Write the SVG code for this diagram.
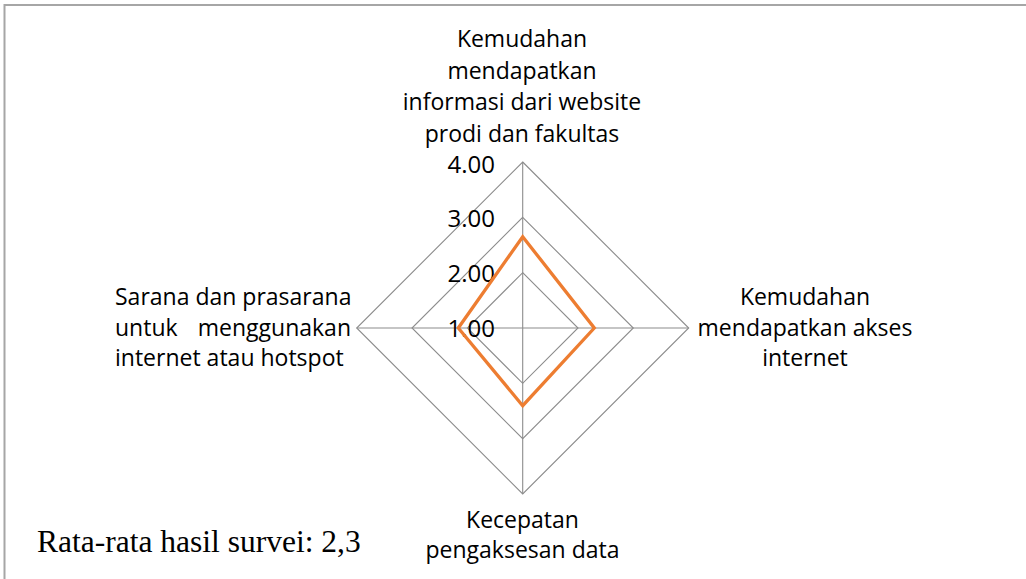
<svg xmlns="http://www.w3.org/2000/svg" width="1026" height="579" viewBox="0 0 1026 579">
<style>
.frame{fill:none;stroke:#a6a6a6;stroke-width:2}
.grid{fill:none;stroke:#8c8c8c;stroke-width:1.1}
.series{fill:none;stroke:#ed7d31;stroke-width:3.3;stroke-linejoin:miter}
.cat{font-family:"Open Sans","Noto Sans",sans-serif;font-size:23px;fill:#000}
.mid{text-anchor:middle}
.tick{font-family:"Open Sans","Noto Sans",sans-serif;font-size:24px;fill:#000;text-anchor:end}
.note{font-family:"Liberation Serif","Times New Roman",serif;font-size:31.5px;fill:#000}
</style>
<rect width="1026" height="579" fill="#ffffff"/>
<rect class="frame" x="4.5" y="5" width="1040" height="600"/>
<g id="grid">
  <polygon class="grid" points="522.7,162 688.7,328 522.7,494 356.7,328"/>
  <polygon class="grid" points="522.7,217.3 633.3,328 522.7,438.7 412,328"/>
  <polygon class="grid" points="522.7,272.7 578,328 522.7,383.3 467.4,328"/>
  <line class="grid" x1="522.7" y1="328" x2="522.7" y2="162"/>
  <line class="grid" x1="522.7" y1="328" x2="688.7" y2="328"/>
  <line class="grid" x1="522.7" y1="328" x2="522.7" y2="494"/>
  <line class="grid" x1="522.7" y1="328" x2="356.7" y2="328"/>
</g>
<g id="axis-labels">
  <text class="tick" x="495" y="172.5">4.00</text>
  <text class="tick" x="495" y="226.5">3.00</text>
  <text class="tick" x="495" y="281.5">2.00</text>
  <text class="tick" x="495" y="336.7">1.00</text>
</g>
<g id="series">
  <polygon class="series" points="522.7,236.7 594.3,328 522.7,405.7 458.3,328"/>
</g>
<g id="label-top">
  <text class="cat mid" x="522" y="46.5">Kemudahan</text>
  <text class="cat mid" x="522" y="78.5">mendapatkan</text>
  <text class="cat mid" x="522" y="110">informasi dari website</text>
  <text class="cat mid" x="522" y="141.5">prodi dan fakultas</text>
</g>
<g id="label-right">
  <text class="cat mid" x="805" y="305">Kemudahan</text>
  <text class="cat mid" x="805" y="336">mendapatkan akses</text>
  <text class="cat mid" x="805" y="366">internet</text>
</g>
<g id="label-left">
  <text class="cat" x="115" y="305">Sarana dan prasarana</text>
  <text class="cat" y="336"><tspan x="115">untuk</tspan><tspan x="351" style="text-anchor:end">menggunakan</tspan></text>
  <text class="cat" x="115" y="366">internet atau hotspot</text>
</g>
<g id="label-bottom">
  <text class="cat mid" x="522.5" y="528">Kecepatan</text>
  <text class="cat mid" x="522.5" y="558">pengaksesan data</text>
</g>
<g id="note">
  <text class="note" x="37" y="552">Rata-rata hasil survei: 2,3</text>
</g>
</svg>
